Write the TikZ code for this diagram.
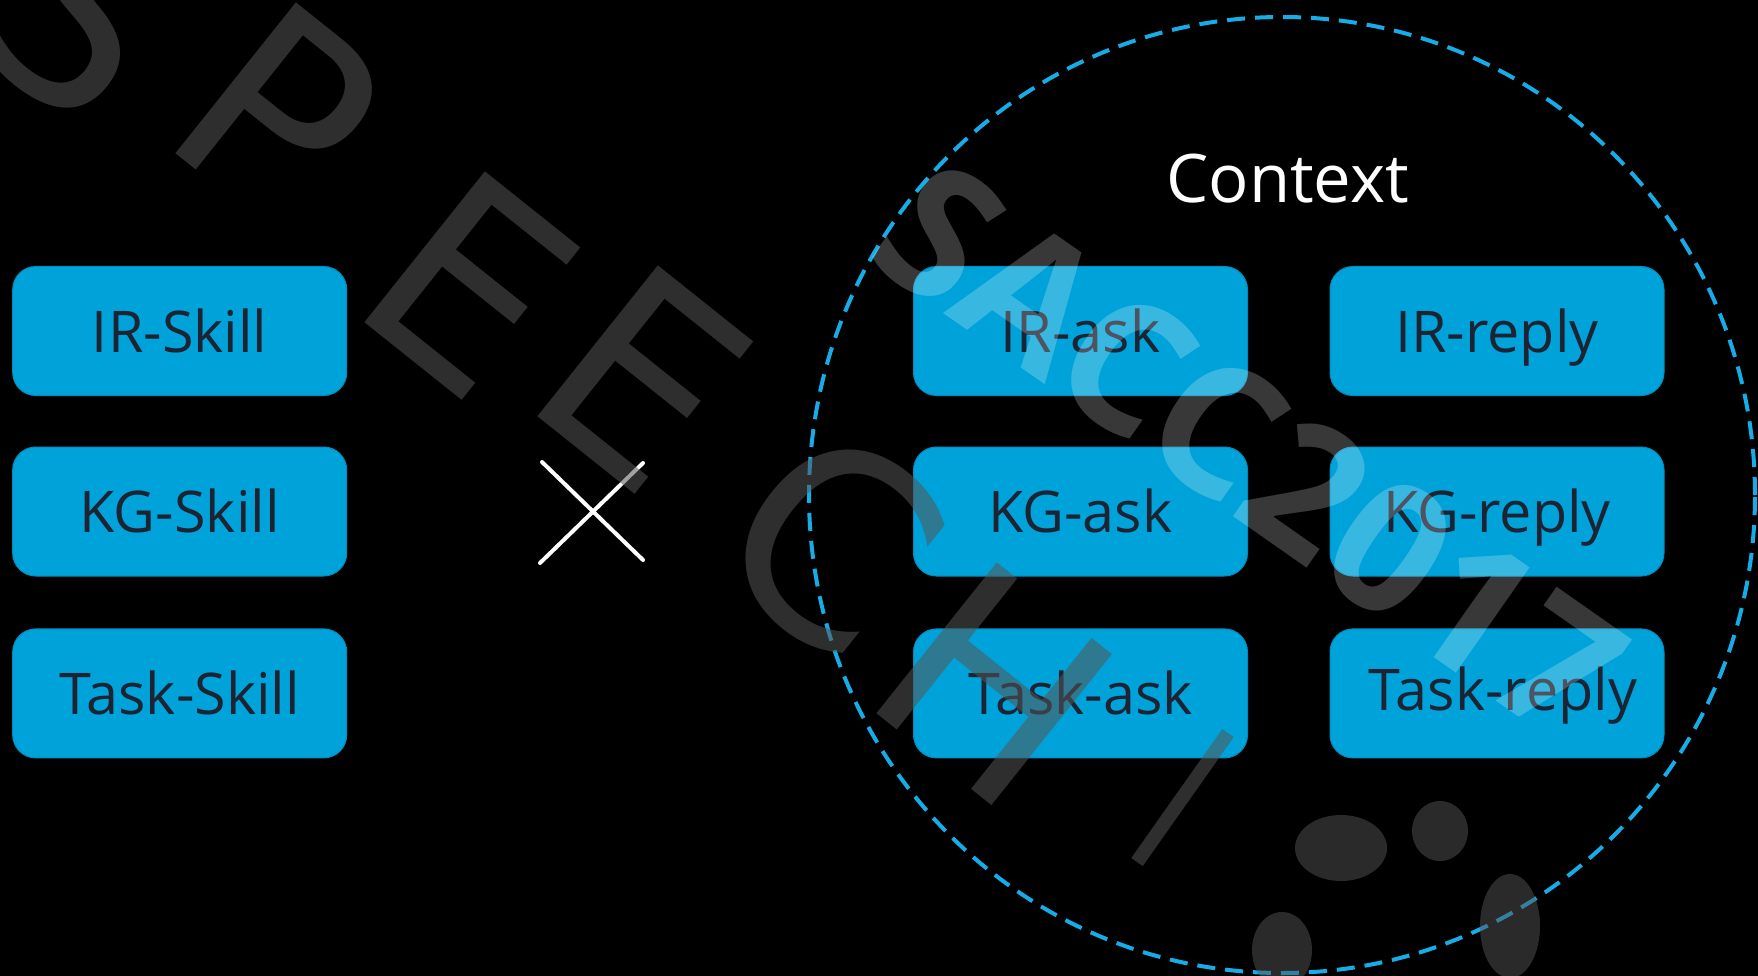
\documentclass[tikz,border=0pt]{standalone}
\usepackage{fontspec}
\setmainfont{Open Sans}
\newfontfamily\wmfont{DejaVu Sans}
\usetikzlibrary{shapes.geometric}
\definecolor{boxblue}{RGB}{0,163,217}
\definecolor{boxedge}{RGB}{0,140,190}
\definecolor{boxtext}{RGB}{28,36,52}
\definecolor{ringblue}{RGB}{22,172,232}
\definecolor{wmgray}{RGB}{85,85,85}
\begin{document}
\begin{tikzpicture}[x=1pt,y=-1pt,
  skillbox/.style={draw=boxedge, line width=1pt, fill=boxblue, rounded corners=23pt,
    minimum width=334pt, minimum height=129pt, inner sep=0pt, text=boxtext,
    font=\fontsize{57.5}{60}\selectfont, text height=42pt, text depth=0pt},
  ring/.style={ellipse, draw=ringblue, line width=4pt, dash pattern=on 18pt off 10pt,
    minimum width=946pt, minimum height=956pt, inner sep=0pt},
  crossline/.style={draw=white, line width=4pt, line cap=round},
  wmletter/.style={text=wmgray, text opacity=0.55, inner sep=0pt, rotate=-38.6,
    font=\wmfont\fontsize{265}{270}\selectfont},
  wmshape/.style={fill=wmgray, fill opacity=0.5, draw=none},
  wmlight/.style={text=white, text opacity=0.22, inner sep=0pt, rotate=-35,
    font=\bfseries\fontsize{180}{185}\selectfont}
]
\fill[black] (0,0) rectangle (1758,976);
\useasboundingbox (0,0) rectangle (1758,976);

% context ring
\node[ring] (ring) at (1282,495) {};
\node[text=white, font=\fontsize{67}{70}\selectfont, anchor=base, inner sep=0pt] (ctx) at (1287.5,203) {Context};

% left column
\node[skillbox] (irskill) at (179.7,331) {IR-Skill};
\node[skillbox] (kgskill) at (179.7,511.5) {KG-Skill};
\node[skillbox] (taskskill) at (179.7,693.4) {Task-Skill};

% middle column
\node[skillbox] (irask) at (1080.5,331) {IR-ask};
\node[skillbox] (kgask) at (1080.5,511.5) {KG-ask};
\node[skillbox] (taskask) at (1080.5,693.4) {Task-ask};

% right column
\node[skillbox] (irreply) at (1497,331) {IR-reply};
\node[skillbox] (kgreply) at (1497,511.5) {KG-reply};
\node[skillbox] (taskreply) at (1497,693.4) {\hspace*{12pt}\raisebox{4pt}{Task-reply}};

% cross
\coordinate (xa) at (542,462);
\coordinate (xb) at (643,560);
\coordinate (xc) at (643,463);
\coordinate (xd) at (540,563);
\draw[crossline] (xa) -- (xb);
\draw[crossline] (xc) -- (xd);

% watermark SPEECH
\node[wmletter] (wS) at (80,10) {S};
\node[wmletter] (wP) at (278,112) {P};
\node[wmletter] (wE1) at (470,283) {E};
\node[wmletter] (wE2) at (643,377) {E};
\node[wmletter] (wC) at (833,541) {C};
\node[wmletter] (wH) at (995,684) {H};
\coordinate (sa) at (1228,733);
\coordinate (sb) at (1137,862);
\draw[draw=wmgray, draw opacity=0.55, line width=14pt] (sa) -- (sb);
\fill[wmshape] (1341,848) ellipse [x radius=46, y radius=33];
\fill[wmshape] (1440,831) ellipse [x radius=28, y radius=30];
\fill[wmshape] (1282,950) ellipse [x radius=30, y radius=38];
\fill[wmshape] (1510,926) ellipse [x radius=30, y radius=52];

% watermark SACC2017
\node[wmlight] (wsacc) at (1250,450) {SACC2017};
\end{tikzpicture}
\end{document}
